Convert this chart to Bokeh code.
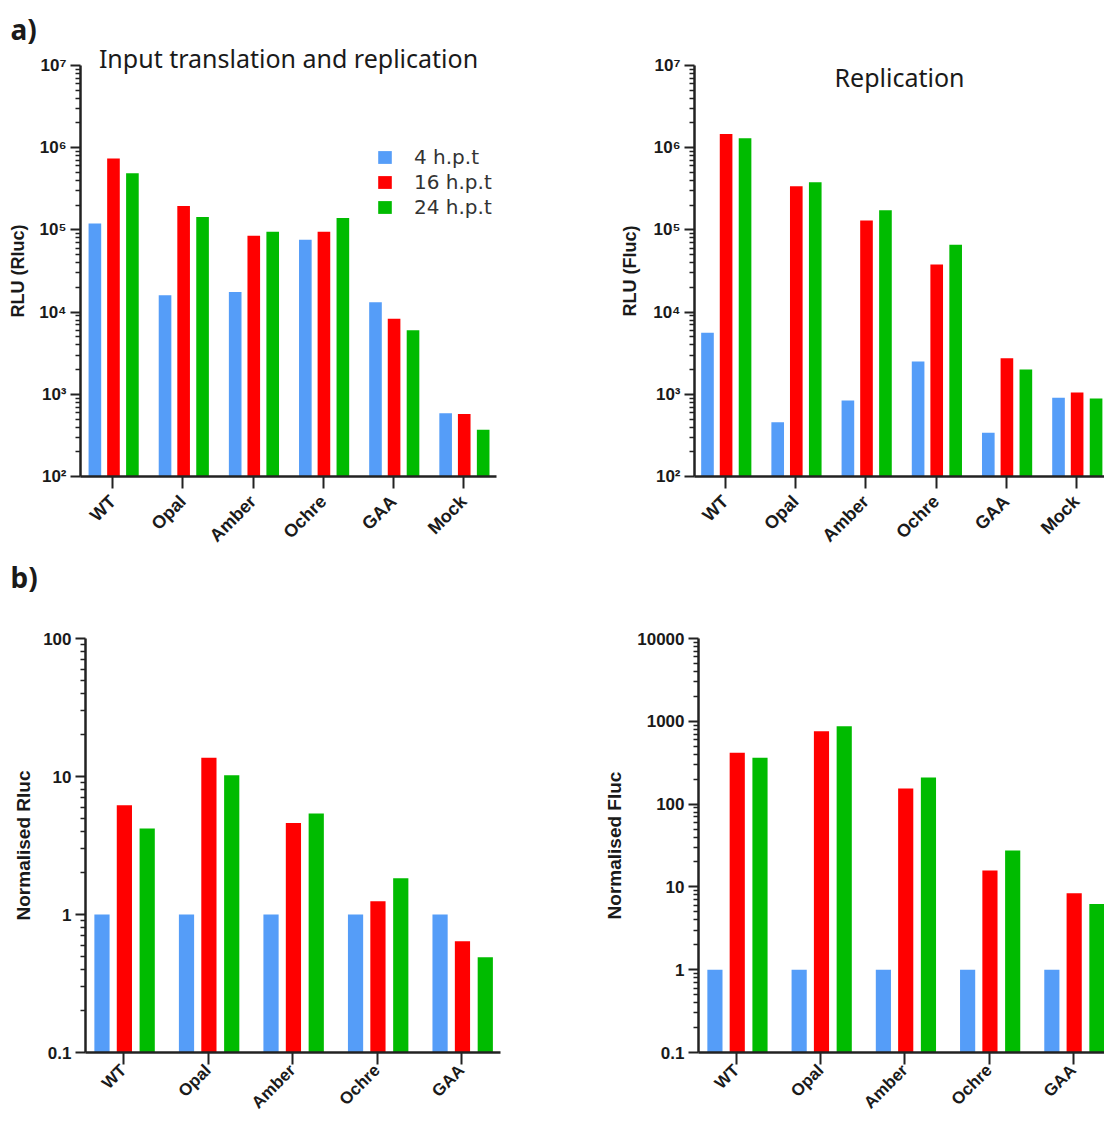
import math
from bokeh.plotting import figure
from bokeh.models import FixedTicker, Label, Legend, LegendItem, Range1d, ColumnDataSource, Title
from bokeh.layouts import column, row
from bokeh.transform import dodge
from bokeh.embed import file_html
from bokeh.resources import INLINE

# ---------------- data ----------------
cats_top = ["WT", "Opal", "Amber", "Ochre", "GAA", "Mock"]
cats_bot = ["WT", "Opal", "Amber", "Ochre", "GAA"]
series = ["4 h.p.t", "16 h.p.t", "24 h.p.t"]

rluc_4h = [1.2e5, 1.6e4, 1.75e4, 7.6e4, 1.32e4, 590]
rluc_16h = [7.4e5, 1.95e5, 8.5e4, 9.5e4, 8.3e3, 575]
rluc_24h = [4.9e5, 1.44e5, 9.5e4, 1.4e5, 6.0e3, 370]

fluc_4h = [5.6e3, 457, 840, 2.5e3, 340, 910]
fluc_16h = [1.47e6, 3.4e5, 1.3e5, 3.8e4, 2.75e3, 1.05e3]
fluc_24h = [1.3e6, 3.8e5, 1.74e5, 6.6e4, 2.0e3, 890]

norm_rluc_4h = [1, 1, 1, 1, 1]
norm_rluc_16h = [6.2, 13.7, 4.6, 1.25, 0.64]
norm_rluc_24h = [4.2, 10.2, 5.4, 1.83, 0.49]

norm_fluc_4h = [1, 1, 1, 1, 1]
norm_fluc_16h = [417, 760, 154, 15.8, 8.4]
norm_fluc_24h = [363, 870, 209, 27.5, 6.2]

sup_labels = {2: "10\u00b2", 3: "10\u00b3", 4: "10\u2074", 5: "10\u2075", 6: "10\u2076", 7: "10\u2077"}
plain_labels = {-1: "0.1", 0: "1", 1: "10", 2: "100", 3: "1000", 4: "10000"}

colors = ["#559DF8", "#FF0000", "#00BB00"]
offsets = [-0.255, 0.01, 0.28]
BAR_W = 0.18
AX = "#222222"
TXT = "#1a1a1a"
LEGEND_Y = [307, 282, 257]


def make_panel(cats, vals, lo, hi, labmap, ylabel, xr, w, h, bl, br, bt, bb,
               cat_size="18px", cat_standoff=10, ylab_size="18px", ylab_standoff=8, legend=False):
    p = figure(width=w, height=h, x_range=Range1d(*xr), y_range=Range1d(10.0 ** lo, 10.0 ** hi),
               y_axis_type="log", output_backend="svg", toolbar_location=None,
               min_border_left=bl, min_border_right=br, min_border_top=bt, min_border_bottom=bb)
    src = ColumnDataSource(dict(x=list(range(len(cats))), s0=vals[0], s1=vals[1], s2=vals[2]))
    rends = []
    for i, key in enumerate(["s0", "s1", "s2"]):
        r = p.vbar(x=dodge("x", offsets[i], range=p.x_range), top=key, bottom=10.0 ** lo,
                   width=BAR_W, source=src, fill_color=colors[i], line_color=None)
        rends.append(r)
    majors = [10.0 ** k for k in range(lo, hi + 1)]
    minors = [m * 10.0 ** k for k in range(lo, hi) for m in range(2, 10)]
    p.yaxis.ticker = FixedTicker(ticks=majors, minor_ticks=minors)
    p.yaxis.major_label_overrides = {10.0 ** k: labmap[k] for k in range(lo, hi + 1)}
    p.xaxis.ticker = FixedTicker(ticks=list(range(len(cats))))
    p.xaxis.major_label_overrides = {i: c for i, c in enumerate(cats)}
    p.xaxis.major_label_orientation = math.pi / 4
    for ax in (p.xaxis, p.yaxis):
        ax.axis_line_width = 2.5
        ax.axis_line_color = AX
        ax.major_tick_line_width = 2
        ax.major_tick_line_color = AX
        ax.major_tick_out = 10
        ax.major_tick_in = 0
        ax.minor_tick_out = 5
        ax.minor_tick_in = 0
        ax.minor_tick_line_width = 1.5
        ax.minor_tick_line_color = AX
        ax.major_label_text_font = "Liberation Sans"
        ax.major_label_text_font_style = "bold"
        ax.major_label_text_font_size = "17px"
        ax.major_label_text_color = TXT
        ax.major_label_standoff = 4
    p.xaxis.major_tick_out = 12
    p.xaxis.major_label_standoff = cat_standoff
    p.xaxis.major_label_text_font_size = cat_size
    p.yaxis.axis_label = ylabel
    p.yaxis.axis_label_text_font = "Liberation Sans"
    p.yaxis.axis_label_text_font_style = "bold"
    p.yaxis.axis_label_text_font_size = ylab_size
    p.yaxis.axis_label_text_color = TXT
    p.yaxis.axis_label_standoff = ylab_standoff
    p.xgrid.visible = False
    p.ygrid.visible = False
    p.outline_line_color = None
    if legend:
        for i in range(3):
            lg = Legend(items=[LegendItem(label=series[i], renderers=[rends[i]])],
                        location=(296, LEGEND_Y[i]), padding=0, margin=0, spacing=0,
                        glyph_width=17, glyph_height=16, label_height=20, label_standoff=21,
                        label_text_font="DejaVu Sans", label_text_font_size="20px",
                        label_text_color="#333333", border_line_alpha=0, background_fill_alpha=0)
            p.add_layout(lg, "center")
    return p


pA = make_panel(cats_top, [rluc_4h, rluc_16h, rluc_24h], 2, 7, sup_labels, "RLU (Rluc)",
                (-0.46, 5.47), 604, 555, 80, 108, 65, 75, ylab_standoff=8, legend=True)
pB = make_panel(cats_top, [fluc_4h, fluc_16h, fluc_24h], 2, 7, sup_labels, "RLU (Fluc)",
                (-0.44, 5.40), 500, 555, 90, 0, 65, 75, ylab_standoff=10)
pC = make_panel(cats_bot, [norm_rluc_4h, norm_rluc_16h, norm_rluc_24h], -1, 2, plain_labels, "Normalised Rluc",
                (-0.45, 4.46), 600, 567, 85, 100, 83, 68, cat_size="17px", cat_standoff=3,
                ylab_size="19px", ylab_standoff=6)
pD = make_panel(cats_bot, [norm_fluc_4h, norm_fluc_16h, norm_fluc_24h], -1, 4, plain_labels, "Normalised Fluc",
                (-0.45, 4.37), 504, 567, 98, 0, 83, 68, cat_size="17px", cat_standoff=3,
                ylab_size="19px", ylab_standoff=9)

# titles and panel letters (first added sits closest to the frame)
pA.add_layout(Title(text="Input translation and replication", align="center", standoff=-18,
                    text_font="Noto Sans", text_font_style="normal", text_font_size="25px",
                    text_color=TXT), "above")
pA.add_layout(Title(text="a)", align="left", offset=-70, standoff=0,
                    text_font="Noto Sans", text_font_style="bold", text_font_size="28px",
                    text_color=TXT), "above")
pC.add_layout(Title(text="\u00a0", align="left", standoff=27,
                    text_font="Noto Sans", text_font_size="10px", text_color=TXT), "above")
pC.add_layout(Title(text="b)", align="left", offset=-75, standoff=0,
                    text_font="Noto Sans", text_font_style="bold", text_font_size="28px",
                    text_color=TXT), "above")
pB.add_layout(Label(x=205, y=400, x_units="screen", y_units="screen", text="Replication",
                    text_align="center", text_baseline="alphabetic", text_font="Noto Sans",
                    text_font_size="25px", text_color=TXT))

layout = column(row(pA, pB), row(pC, pD))
open("out.html", "w").write(file_html(layout, INLINE))
